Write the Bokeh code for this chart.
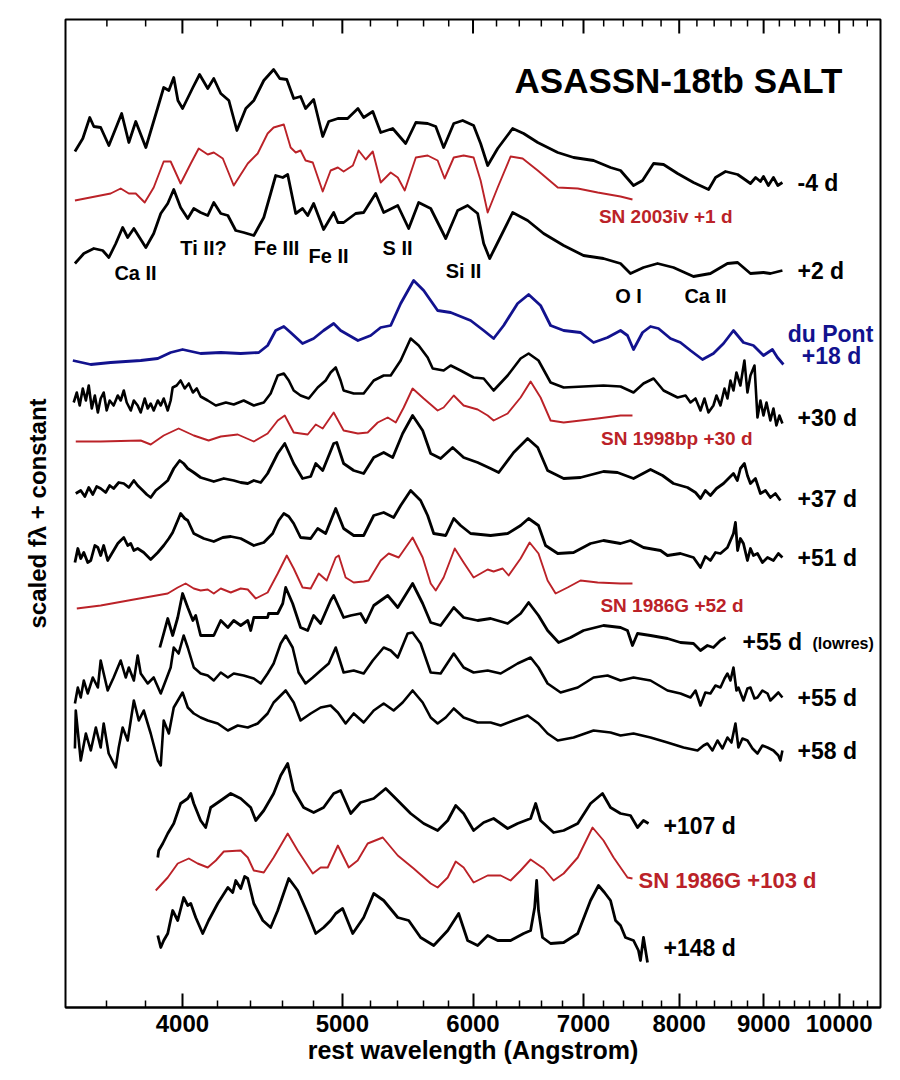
from bokeh.plotting import figure
from bokeh.models import Range1d, FixedTicker, BasicTickFormatter, Label, Title
from bokeh.embed import file_html
from bokeh.resources import INLINE

# ---------------- data (wavelength in Angstrom, scaled flux + constant) -------------
W_M4 = [3443,3481,3515,3535,3569,3610,3675,3712,3748,3801,
        3865,3897,3925,3952,3975,4001,4059,4097,4144,4179,
        4220,4268,4316,4370,4419,4481,4543,4582,4627,4672,
        4717,4750,4804,4865,4906,4969,5037,5110,5151,5217,
        5275,5364,5462,5540,5632,5696,5759,5841,5914,6005,
        6064,6124,6210,6341,6439,6567,6753,6904,7099,7269,
        7371,7506,7601,7719,7827,7982,8161,8335,8416,8534,
        8679,8750,8836,8900,8960,8998,9060,9124,9180,9239]
F_M4 = [856,869,890,881,880,862,894,865,886,860,
        900,920,917,930,907,899,920,933,919,929,
        914,907,877,899,907,927,938,929,928,909,
        911,899,908,871,886,889,889,899,890,896,
        875,879,864,885,884,881,860,884,887,882,
        864,842,859,879,874,865,855,850,847,840,
        837,822,827,844,843,834,825,818,830,836,
        833,829,824,830,826,831,822,830,822,825]

W_03IV = [3443,3619,3670,3712,3748,3795,3843,3897,3935,3990,
          4047,4092,4144,4179,4232,4297,4382,4443,4505,4543,
          4608,4652,4685,4717,4750,4798,4865,4919,4969,5009,
          5074,5115,5166,5217,5275,5349,5402,5455,5540,5632,
          5711,5767,5841,5922,6005,6064,6124,6210,6323,6430,
          6567,6753,6944,7140,7371,7495]
F_03IV = [807,814,819,814,814,805,820,846,846,824,
          844,859,853,855,849,822,844,854,874,880,
          883,860,855,857,847,845,816,837,840,836,
          842,857,848,856,825,835,830,817,850,852,
          847,829,850,852,850,827,795,820,851,849,
          837,820,819,815,811,808]

W_P2 = [3443,3486,3535,3579,3610,3645,3680,3706,3738,3801,
        3843,3881,3919,3952,3990,4030,4064,4103,4144,4179,
        4220,4262,4309,4357,4419,4481,4524,4556,4601,4633,
        4685,4730,4764,4804,4871,4940,4969,5009,5094,5151,
        5238,5297,5402,5485,5562,5656,5776,5873,5955,6039,
        6090,6141,6219,6341,6475,6621,6809,7000,7198,7371,
        7474,7611,7762,7936,8161,8356,8557,8679,8836,8998,
        9085,9239]
F_P2 = [744,754,759,757,750,764,780,770,779,760,
        774,794,804,818,800,789,799,795,792,805,
        794,792,777,775,772,790,814,832,830,833,
        794,799,792,804,778,795,785,785,794,795,
        814,795,802,779,805,799,769,797,802,794,
        764,749,767,795,787,774,762,752,749,744,
        734,740,744,740,731,734,744,745,734,735,
        734,737]

W_P18 = [3433,3520,3619,3774,3865,3935,4001,4103,4220,4339,
         4450,4505,4556,4608,4652,4730,4804,4871,4940,4988,
         5110,5202,5275,5349,5424,5523,5601,5711,5816,5980,
         6090,6175,6262,6385,6484,6593,6686,6809,6971,7099,
         7239,7371,7443,7506,7601,7686,7772,7903,8014,8127,
         8264,8391,8510,8629,8750,8873,8998,9111,9175,9252]
F_P18 = [647,643,645,647,649,655,658,654,655,654,
         655,662,677,681,675,664,669,677,684,677,
         667,672,680,682,704,727,717,697,695,687,
         677,669,682,704,713,702,682,677,675,665,
         670,677,672,658,675,681,679,669,665,657,
         648,654,664,677,665,662,652,658,650,643]

W_P30 = [3437,3452,3466,3481,3496,3510,3525,3540,3555,3569,
         3584,3599,3614,3634,3655,3670,3686,3701,3722,3738,
         3758,3774,3795,3811,3827,3843,3865,3881,3897,3919,
         3935,3946,3968,3990,4013,4036,4059,4081,4103,4144,
         4191,4250,4297,4357,4419,4481,4524,4569,4608,4640,
         4672,4717,4771,4831,4885,4919,4954,4988,5009,5080,
         5151,5224,5297,5349,5424,5500,5562,5632,5672,5759,
         5816,5897,6005,6090,6175,6297,6412,6484,6574,6686,
         6809,7000,7198,7371,7506,7611,7719,7827,7982,8071,
         8127,8184,8241,8287,8333,8391,8427,8474,8522,8557,
         8593,8629,8665,8713,8762,8799,8836,8886,8923,8960,
         8998,9036,9085,9124,9162,9200,9239]
F_P30 = [605,615,602,619,607,622,599,612,595,609,
         615,597,607,602,612,607,617,605,597,607,
         602,595,609,599,604,597,607,602,609,597,
         607,620,622,627,619,624,615,619,611,607,
         602,605,603,607,602,605,614,632,634,627,
         617,612,609,620,627,635,640,627,617,614,
         614,627,632,632,647,669,662,650,639,637,
         642,637,630,629,617,632,649,654,647,625,
         620,621,622,621,615,624,629,617,610,612,
         605,609,597,609,595,602,612,602,619,609,
         627,617,635,622,647,615,632,642,590,607,
         592,605,587,599,582,592,584]

W_98BP = [3447,3569,3774,3827,3897,3979,4064,4149,4220,4321,
          4419,4505,4569,4614,4672,4764,4818,4865,4940,5009,
          5110,5180,5253,5327,5387,5447,5515,5601,5711,5759,
          5841,5922,6039,6124,6175,6297,6412,6502,6593,6686,
          6809,7140,7371,7495]
F_98BP = [566,566,567,563,572,579,572,567,571,573,
          566,574,587,592,575,573,583,579,595,577,
          574,575,585,590,585,600,619,609,597,600,
          612,602,598,592,587,594,610,626,610,587,
          585,589,592,592]

W_P37 = [3447,3471,3491,3510,3530,3549,3569,3594,3614,3634,
         3660,3686,3712,3738,3758,3785,3806,3827,3854,3881,
         3919,3952,3985,4007,4030,4064,4103,4179,4238,4297,
         4339,4382,4419,4462,4505,4569,4614,4672,4730,4784,
         4818,4865,4940,4961,5009,5080,5151,5224,5297,5364,
         5439,5515,5593,5656,5735,5832,5922,6039,6149,6219,
         6350,6475,6567,6658,6809,6971,7198,7340,7506,7686,
         7816,7936,8093,8184,8241,8297,8356,8427,8510,8569,
         8629,8676,8713,8762,8799,8836,8898,8960,9023,9085,
         9149,9213]
F_P37 = [514,517,511,520,513,521,519,515,522,519,
         525,524,520,527,522,517,513,510,517,521,
         527,539,547,544,539,535,530,526,529,527,
         525,524,527,525,534,554,564,544,529,531,
         544,537,564,565,544,537,534,550,555,550,
         574,592,577,554,549,560,550,545,539,535,
         555,569,560,537,529,530,536,535,529,538,
         532,524,520,515,509,517,512,519,524,529,
         534,527,539,544,532,524,529,514,517,510,
         514,507]

W_P51 = [3443,3457,3471,3486,3505,3520,3540,3555,3569,3584,
         3604,3619,3634,3655,3670,3686,3706,3722,3738,3758,
         3790,3827,3865,3897,3925,3946,3974,3990,4013,4030,
         4064,4121,4179,4232,4279,4339,4419,4481,4537,4575,
         4608,4640,4672,4717,4784,4831,4885,4954,5009,5080,
         5151,5224,5297,5371,5424,5500,5577,5632,5680,5776,
         5841,5897,5980,6149,6297,6412,6484,6574,6639,6753,
         6904,7069,7198,7371,7474,7611,7794,7870,8014,8161,
         8241,8297,8356,8415,8474,8557,8593,8629,8653,8679,
         8713,8750,8799,8836,8873,8923,8985,9049,9124,9187,
         9239]
F_P51 = [445,459,449,455,445,447,462,460,452,462,
         447,452,457,464,467,470,462,464,457,459,
         455,448,455,462,469,475,487,494,489,487,
         474,469,466,470,471,469,462,465,474,487,
         494,491,484,470,469,479,474,499,479,472,
         472,492,495,490,502,517,507,492,474,472,
         489,482,474,472,474,482,489,482,462,454,
         455,464,467,464,467,460,457,452,454,450,
         440,451,447,455,454,460,467,474,485,457,
         469,464,447,459,452,454,445,450,447,454,
         450]

W_86G52 = [3452,3569,3738,3919,3974,4018,4064,4103,4144,4179,
           4220,4279,4339,4382,4431,4505,4569,4627,4672,4730,
           4784,4838,4892,4954,4975,5023,5080,5151,5187,5275,
           5334,5409,5515,5593,5656,5696,5759,5849,5922,6005,
           6124,6175,6253,6306,6412,6493,6574,6658,6733,6846,
           6971,7140,7371,7495]
F_86G52 = [399,402,408,414,420,424,419,417,418,414,
           419,415,419,418,409,415,434,452,439,420,
           419,434,427,450,452,430,425,426,427,447,
           454,450,470,450,424,417,430,459,445,430,
           438,436,439,432,449,465,454,427,414,420,
           427,425,424,424]

W_P55LR = [3876,3897,3919,3946,3974,4001,4030,4059,4075,4103,
           4144,4179,4220,4262,4297,4339,4382,4400,4419,4505,
           4511,4569,4601,4620,4665,4717,4764,4804,4851,4919,
           4940,5009,5059,5129,5166,5224,5327,5402,5515,5593,
           5656,5735,5841,5922,6039,6149,6297,6412,6484,6574,
           6658,6761,6875,7000,7198,7371,7443,7495,7548,7686,
           7870,8014,8161,8241,8321,8391,8474,8534]
F_P55LR = [360,374,389,372,390,414,400,387,392,372,
           372,372,387,380,387,382,387,377,390,390,
           394,394,404,420,404,380,377,392,384,407,
           412,390,392,394,385,402,412,400,424,404,
           385,382,400,390,387,389,384,394,405,392,
           377,365,370,377,382,380,377,362,374,372,
           369,365,364,357,362,360,367,370]

W_P55 = [3443,3457,3471,3486,3505,3530,3555,3569,3584,3604,
         3634,3670,3696,3712,3738,3758,3774,3811,3843,3881,
         3908,3935,3952,3979,4007,4030,4064,4103,4144,4179,
         4220,4262,4297,4357,4419,4462,4505,4543,4588,4620,
         4665,4704,4750,4798,4851,4906,4954,5009,5080,5151,
         5217,5297,5349,5402,5477,5515,5577,5656,5735,5841,
         5922,6005,6124,6236,6385,6502,6574,6658,6780,6944,
         7099,7239,7371,7506,7686,7870,8014,8127,8184,8241,
         8297,8356,8415,8474,8522,8557,8593,8629,8665,8689,
         8750,8799,8836,8886,8923,8985,9049,9085,9124,9187,
         9239]
F_P55 = [304,320,310,327,314,330,320,347,334,317,
         330,347,330,340,327,352,334,324,330,314,
         327,340,360,354,372,360,340,334,332,327,
         335,330,334,332,329,324,334,344,364,372,
         360,335,324,330,337,344,360,335,337,334,
         347,360,357,350,374,375,364,335,334,354,
         340,335,337,334,344,350,340,324,315,320,
         330,332,327,330,327,317,314,310,317,302,
         315,314,322,320,329,334,327,340,317,320,
         307,319,320,309,310,317,314,307,310,315,
         310]

W_P58 = [3443,3447,3471,3496,3520,3545,3569,3584,3609,3645,
         3660,3680,3706,3738,3764,3790,3827,3865,3881,3897,
         3925,3952,4001,4030,4064,4103,4144,4202,4262,4321,
         4382,4443,4505,4543,4620,4672,4717,4784,4851,4919,
         4969,5023,5080,5151,5224,5297,5371,5439,5515,5593,
         5656,5711,5776,5841,5922,6039,6149,6236,6350,6475,
         6574,6658,6753,6904,7099,7269,7371,7506,7686,7870,
         8048,8207,8276,8321,8380,8439,8498,8557,8605,8653,
         8689,8738,8799,8861,8923,8985,9049,9124,9187,9213,
         9239]
F_P58 = [259,297,247,274,257,280,260,284,254,240,
         260,280,267,307,287,297,274,247,242,287,
         274,300,315,300,294,290,287,284,277,282,
         280,284,294,305,317,305,287,294,300,302,
         295,284,294,285,297,304,297,305,317,305,
         290,284,290,299,290,285,285,282,287,292,
         284,274,267,270,277,275,272,274,270,265,
         260,257,262,264,257,267,259,270,265,284,
         260,269,267,259,254,262,260,257,252,247,
         257]

W_P107 = [3865,3870,3892,3919,3952,3990,4030,4047,4064,4103,
          4132,4161,4220,4279,4339,4400,4431,4481,4543,4588,
          4633,4672,4737,4804,4871,4940,4988,5059,5129,5224,
          5312,5402,5500,5601,5711,5792,5857,5922,6005,6090,
          6175,6297,6385,6502,6548,6593,6714,6809,6944,7069,
          7188,7269,7371,7474,7548,7611,7665]
F_P107 = [150,157,164,174,184,204,209,214,204,187,
          180,200,207,214,209,200,187,197,214,232,
          244,217,200,195,200,214,217,194,205,209,
          219,207,194,184,177,187,202,194,177,185,
          189,179,184,189,204,187,175,177,184,204,
          214,200,194,192,180,187,184]

W_86G103 = [3854,3919,3974,4036,4086,4144,4191,4238,4339,4382,
            4419,4481,4543,4633,4698,4798,4851,4899,4969,5045,
            5108,5180,5290,5402,5523,5656,5711,5792,5857,5922,
            6005,6124,6236,6323,6412,6502,6621,6714,6809,6944,
            7089,7198,7300,7371,7443,7495]
F_86G103 = [117,130,144,149,144,140,147,156,157,150,
            137,135,150,174,157,134,140,140,162,140,
            147,164,170,152,139,124,120,130,146,140,
            125,132,132,127,137,148,139,127,134,150,
            180,167,150,140,130,129]

W_P148 = [3865,3881,3897,3919,3946,3974,4007,4030,4047,4075,
          4115,4149,4202,4232,4262,4291,4309,4339,4363,4382,
          4419,4475,4524,4569,4640,4698,4764,4818,4871,4919,
          4954,5002,5073,5151,5224,5297,5402,5485,5577,5680,
          5792,5881,5955,6039,6124,6210,6323,6439,6502,6539,
          6557,6574,6611,6686,6809,6944,7069,7148,7208,7269,
          7320,7371,7422,7506,7558,7579,7611,7654]
F_P148 = [72,60,67,74,97,87,110,102,104,90,
          74,87,104,112,120,115,127,119,131,129,
          104,87,80,97,129,117,94,74,80,87,
          94,99,74,90,114,107,90,87,70,62,
          77,94,67,62,72,67,67,74,77,100,
          127,97,70,64,65,74,107,122,115,107,
          87,82,70,67,57,47,70,45]

MAJOR_TICKS = [4000, 5000, 6000, 7000, 8000, 9000, 10000]
MINOR_TICKS = [3600, 3800, 4200, 4400, 4600, 4800, 5200, 5400, 5600, 5800,
               6200, 6400, 6600, 6800, 7200, 7400, 7600, 7800, 8200, 8400,
               8600, 8800, 9200, 9400, 9600, 9800, 10200, 10400]

TITLE = "ASASSN-18tb SALT"
X_LABEL = "rest wavelength (Angstrom)"
Y_LABEL = "scaled fλ + constant"

# ---------------- styles ----------------
BLACK = "#000000"
RED = "#bb2228"
BLUE = "#12128e"
FONT = "Liberation Sans"
Y_TOP = 988          # top of the y range (frame is 988 px tall: 1 unit = 1 px)
MAJOR_LEN = 14
MINOR_LEN = 7

SERIES = [
    (W_M4, F_M4, BLACK, 2.8),
    (W_03IV, F_03IV, RED, 1.9),
    (W_P2, F_P2, BLACK, 2.8),
    (W_P18, F_P18, BLUE, 2.8),
    (W_P30, F_P30, BLACK, 2.6),
    (W_98BP, F_98BP, RED, 1.9),
    (W_P37, F_P37, BLACK, 2.8),
    (W_P51, F_P51, BLACK, 2.8),
    (W_86G52, F_86G52, RED, 1.9),
    (W_P55LR, F_P55LR, BLACK, 2.8),
    (W_P55, F_P55, BLACK, 2.6),
    (W_P58, F_P58, BLACK, 2.6),
    (W_P107, F_P107, BLACK, 2.8),
    (W_86G103, F_86G103, RED, 1.9),
    (W_P148, F_P148, BLACK, 2.8),
]

p = figure(width=900, height=1080, x_axis_type="log",
           x_range=Range1d(3398, 10594), y_range=Range1d(0, Y_TOP),
           output_backend="svg", toolbar_location=None, y_axis_location=None,
           min_border_left=65, min_border_right=20, min_border_top=19,
           min_border_bottom=73)
p.title.visible = False
p.outline_line_color = "black"
p.outline_line_width = 2
p.xgrid.visible = False
p.ygrid.visible = False
p.background_fill_color = "white"
p.border_fill_color = "white"

ticker = FixedTicker(ticks=MAJOR_TICKS, minor_ticks=MINOR_TICKS)
ax = p.xaxis[0]
ax.ticker = ticker
ax.formatter = BasicTickFormatter(use_scientific=False)
ax.major_tick_in = MAJOR_LEN
ax.major_tick_out = 0
ax.minor_tick_in = MINOR_LEN
ax.minor_tick_out = 0
ax.major_tick_line_width = 2
ax.minor_tick_line_width = 1.5
ax.axis_line_width = 2
ax.major_label_text_font = FONT
ax.major_label_text_font_style = "bold"
ax.major_label_text_font_size = "24px"
ax.major_label_text_color = "black"
ax.major_label_standoff = 7
ax.axis_label = X_LABEL
ax.axis_label_text_font = FONT
ax.axis_label_text_font_style = "bold"
ax.axis_label_text_font_size = "25px"
ax.axis_label_text_color = "black"
ax.axis_label_standoff = 1

# mirrored ticks along the top edge of the frame
p.segment(x0=MAJOR_TICKS, y0=[Y_TOP - MAJOR_LEN] * len(MAJOR_TICKS),
          x1=MAJOR_TICKS, y1=[Y_TOP] * len(MAJOR_TICKS),
          line_color="black", line_width=2)
p.segment(x0=MINOR_TICKS, y0=[Y_TOP - MINOR_LEN] * len(MINOR_TICKS),
          x1=MINOR_TICKS, y1=[Y_TOP] * len(MINOR_TICKS),
          line_color="black", line_width=1.5)

for w, f, c, lw in SERIES:
    p.line(w, f, line_color=c, line_width=lw, line_join="round")

# rotated y label in the left border
p.add_layout(Title(text=Y_LABEL, align="center", text_font=FONT,
                   text_font_style="bold", text_font_size="24px",
                   text_color="black", standoff=30), "left")

# page (px, py) -> frame screen units: sx = px - 65, sy = 1007 - py
def add_text(text, sx, sy, size, color=BLACK, align="left"):
    p.add_layout(Label(x=sx, y=sy, x_units="screen", y_units="screen",
                       text=text, text_font=FONT, text_font_style="bold",
                       text_font_size=size, text_color=color,
                       text_align=align, text_baseline="middle"))

add_text(TITLE, 777, 927, "35px", align="right")
add_text("-4 d", 732, 825, "23px")
add_text("SN 2003iv +1 d", 667, 791, "19px", RED, "right")
add_text("+2 d", 732, 737, "23px")
add_text("du Pont", 765, 674, "23px", BLUE, "center")
add_text("+18 d", 766, 652, "23px", BLUE, "center")
add_text("+30 d", 732, 590, "23px")
add_text("SN 1998bp +30 d", 687, 569, "19px", RED, "right")
add_text("+37 d", 732, 509, "23px")
add_text("+51 d", 732, 450, "23px")
add_text("SN 1986G +52 d", 678, 402, "19px", RED, "right")
add_text("+55 d", 677, 366, "23px")
add_text("(lowres)", 747, 364, "16px")
add_text("+55 d", 732, 310, "23px")
add_text("+58 d", 732, 257, "23px")
add_text("+107 d", 598, 182, "23px")
add_text("SN 1986G +103 d", 573, 127, "22px", RED)
add_text("+148 d", 598, 60, "23px")

add_text("Ca II", 70, 735, "20px", align="center")
add_text("Ti II?", 138, 760, "20px", align="center")
add_text("Fe III", 211, 760, "20px", align="center")
add_text("Fe II", 263, 752, "20px", align="center")
add_text("S II", 332, 760, "20px", align="center")
add_text("Si II", 398, 737, "20px", align="center")
add_text("O I", 563, 712, "20px", align="center")
add_text("Ca II", 640, 712, "20px", align="center")

open("out.html", "w").write(file_html(p, INLINE))
